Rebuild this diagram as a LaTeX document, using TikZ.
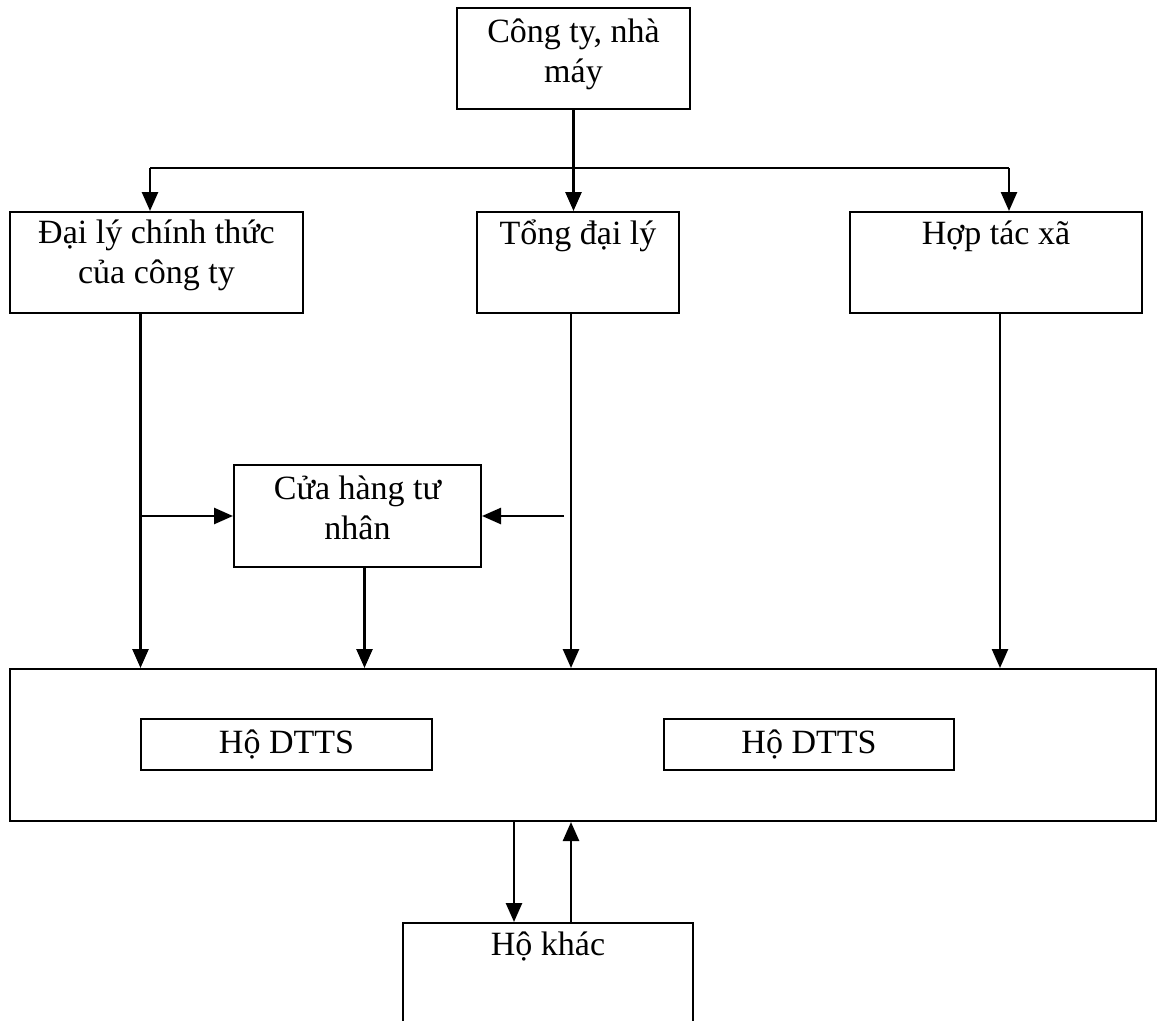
\documentclass[tikz,border=0pt]{standalone}
\usepackage{fontspec}
\setmainfont{Liberation Serif}
\usetikzlibrary{arrows.meta}
\tikzset{
  box/.style={draw, line width=2pt, inner sep=0pt, anchor=north west},
  txt/.style={font=\fontsize{34}{40}\selectfont, align=center, anchor=base, inner sep=0pt},
  conn/.style={line width=2.6pt, -{Triangle[length=19pt,width=16pt]}},
  link/.style={line width=2.6pt},
}
\begin{document}
\begin{tikzpicture}[x=1pt,y=-1pt]
\useasboundingbox (0,0) rectangle (1159,1020);

% producer (base anchor sits on the last line)
\node[box, minimum width=233pt, minimum height=101pt] (cty) at (456,7) {};
\node[txt] at ([yshift=-75pt]cty.north) {Công ty, nhà\\máy};

% distributors
\node[box, minimum width=293pt, minimum height=101pt] (dl) at (9,211) {};
\node[txt] at ([yshift=-72pt]dl.north) {Đại lý chính thức\\của công ty};
\node[box, minimum width=202pt, minimum height=101pt] (tong) at (476,211) {};
\node[txt] at ([yshift=-33pt]tong.north) {Tổng đại lý};
\node[box, minimum width=292pt, minimum height=101pt] (hop) at (849,211) {};
\node[txt] at ([yshift=-33pt]hop.north) {Hợp tác xã};

% retail shop
\node[box, minimum width=247pt, minimum height=102pt] (ch) at (233,464) {};
\node[txt] at ([yshift=-75pt]ch.north) {Cửa hàng tư\\nhân};

% households
\node[box, minimum width=1146pt, minimum height=152pt] (big) at (9,668) {};
\node[box, minimum width=291pt, minimum height=51pt, font=\fontsize{34}{40}\selectfont] (d1) at (140,718) {Hộ DTTS};
\node[box, minimum width=290pt, minimum height=51pt, font=\fontsize{34}{40}\selectfont] (d2) at (663,718) {Hộ DTTS};

% other households (runs past the lower edge)
\begin{scope}
  \clip (0,0) rectangle (1159,1020);
  \node[box, minimum width=290pt, minimum height=140pt] (khac) at (402,922) {};
\end{scope}
\node[txt] at ([yshift=-33pt]khac.north) {Hộ khác};

% producer to distributors
\draw[conn] (cty.south) -- (cty.south |- tong.north);
\coordinate (barL) at (150,168);
\coordinate (barR) at (1009,168);
\draw[link] (barL) -- (barR);
\draw[conn] (barL) -- (barL |- dl.north);
\draw[conn] (barR) -- (barR |- hop.north);

% distributors to households
\coordinate (dlOut) at ([xshift=-16pt]dl.south);
\draw[conn] (dlOut) -- (dlOut |- big.north);
\draw[conn] (dlOut |- ch.west) -- (ch.west);
\coordinate (tOut) at ([xshift=-7pt]tong.south);
\draw[conn] (tOut) -- (tOut |- big.north);
\draw[conn] ([xshift=-7pt]tOut |- ch.east) -- (ch.east);
\coordinate (chOut) at ([xshift=7pt]ch.south);
\draw[conn] (chOut) -- (chOut |- big.north);
\coordinate (hOut) at ([xshift=4pt]hop.south);
\draw[conn] (hOut) -- (hOut |- big.north);

% exchange with other households
\coordinate (kIn) at ([xshift=-34pt]khac.north);
\coordinate (kOut) at ([xshift=23pt]khac.north);
\draw[conn] (kIn |- big.south) -- (kIn);
\draw[conn] (kOut) -- (kOut |- big.south);
\end{tikzpicture}
\end{document}
